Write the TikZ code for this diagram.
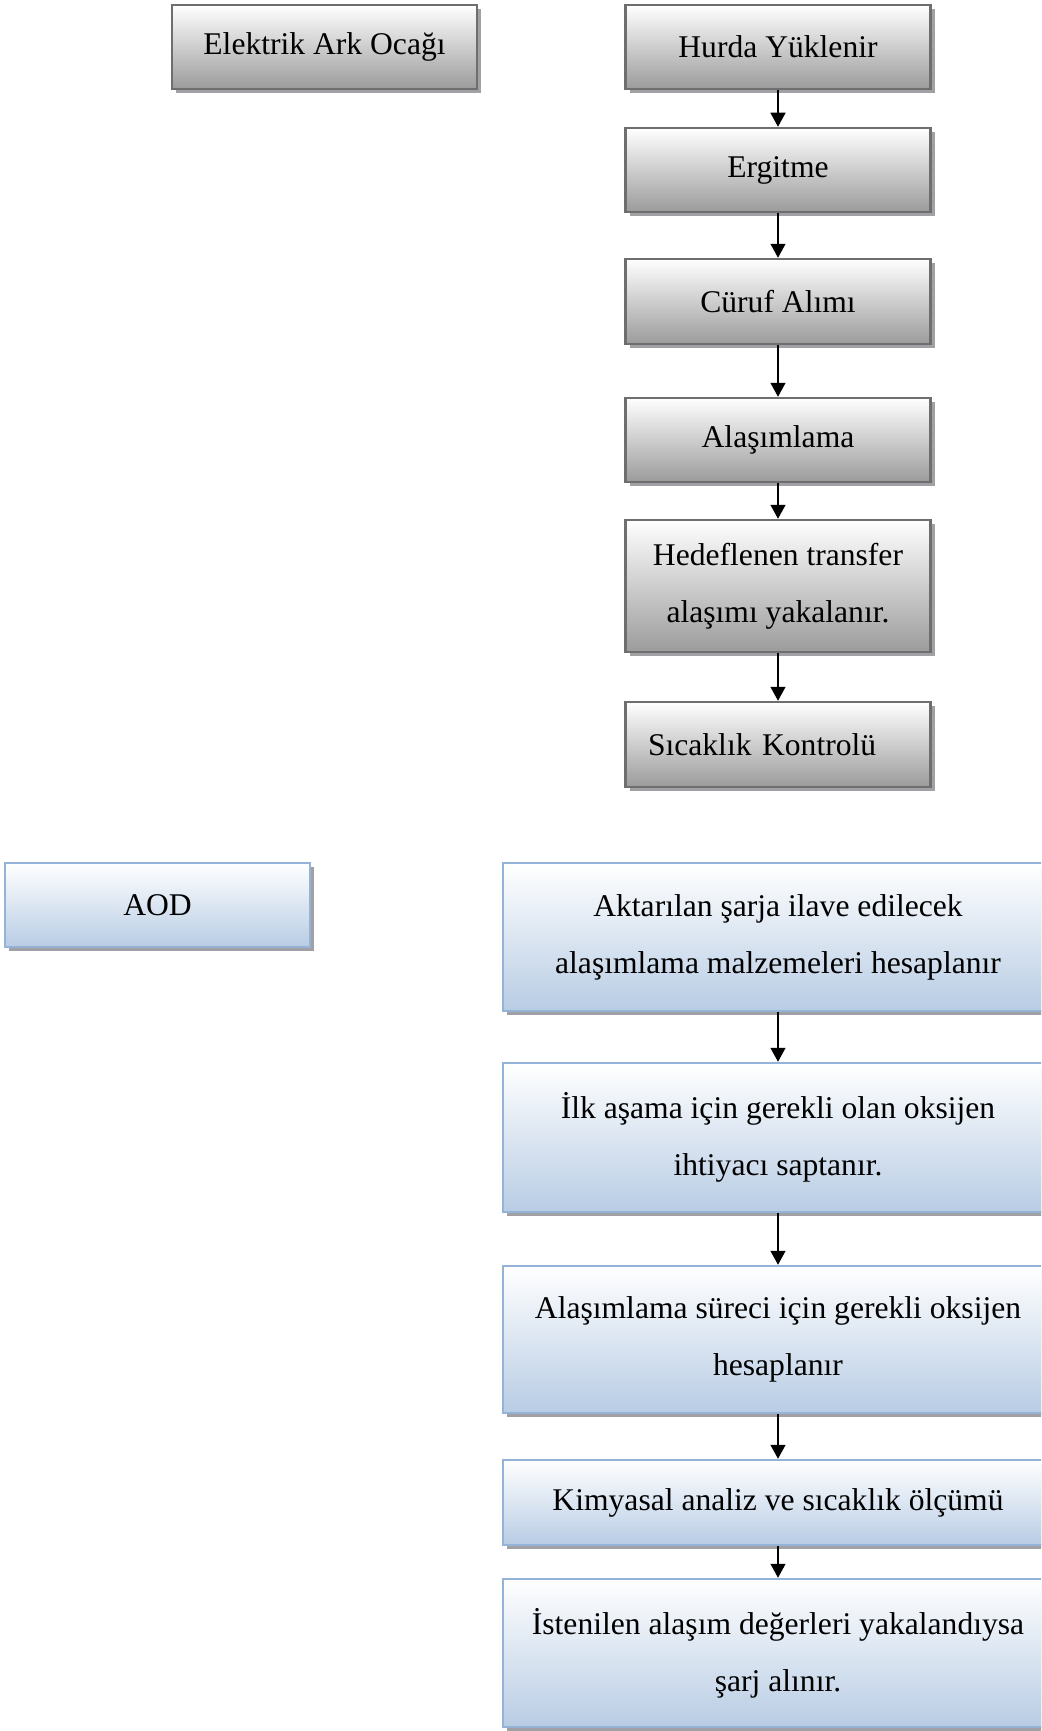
\documentclass[tikz,border=0pt]{standalone}
\usepackage{fontspec}
\setmainfont{Liberation Serif}
\usepackage{tikz}
\usetikzlibrary{arrows.meta,shadows}
\definecolor{kenargri}{RGB}{110,110,110}
\definecolor{altgri}{RGB}{155,155,155}
\definecolor{kenarmavi}{RGB}{149,179,215}
\definecolor{altmavi}{RGB}{184,204,228}
\definecolor{golge}{RGB}{160,160,165}

\tikzset{
	kutu/.style={rectangle, line width=2.5pt, align=center, inner sep=0pt,
		font=\fontsize{31.6}{57}\selectfont,
		drop shadow={shadow xshift=4pt, shadow yshift=-4pt, fill=golge, opacity=1}},
	grikutu/.style={kutu, draw=kenargri, top color=white, bottom color=altgri,
		minimum width=305pt},
	mavikutu/.style={kutu, draw=kenarmavi, top color=white, bottom color=altmavi},
	ok/.style={-{Triangle[width=15pt,length=14pt]}, line width=1.4pt}
}

\begin{document}
\begin{tikzpicture}[x=1pt,y=-1pt]
		\useasboundingbox (0,0) rectangle (1041,1731);
		\clip (0,0) rectangle (1041,1731);

		% ust bolum: elektrik ark ocagi
		\node[grikutu, minimum height=84pt] (eaf) at (324.5,47) {Elektrik Ark Ocağı};
		\node[grikutu, minimum height=84pt] (hurda) at (778,47) {Hurda Yüklenir};
		\node[grikutu, minimum height=84pt] (ergitme) at (778,170) {Ergitme};
		\node[grikutu, minimum height=85pt] (curuf) at (778,301.5) {Cüruf Alımı};
		\node[grikutu, minimum height=84pt] (alasim) at (778,440) {Alaşımlama};
		\node[grikutu, minimum height=132pt] (hedef) at (778,586) {Hedeflenen transfer\\alaşımı yakalanır.};
		\node[grikutu, minimum height=85pt, text width=260pt, inner xsep=22.5pt, align=left] (sicaklik) at (778,744.5) {Sıcaklık Kontrolü};

		\draw[ok] (hurda) -- (ergitme);
		\draw[ok] (ergitme) -- (curuf);
		\draw[ok] (curuf) -- (alasim);
		\draw[ok] (alasim) -- (hedef);
		\draw[ok] (hedef) -- (sicaklik);

		% alt bolum: AOD
		\node[mavikutu, minimum width=305pt, minimum height=84pt] (aod) at (157.5,905) {AOD};
		\node[mavikutu, minimum width=550pt, minimum height=148pt] (aktar) at (778,937) {Aktarılan şarja ilave edilecek\\alaşımlama malzemeleri hesaplanır};
		\node[mavikutu, minimum width=550pt, minimum height=149pt] (ilk) at (778,1137.5) {İlk aşama için gerekli olan oksijen\\ihtiyacı saptanır.};
		\node[mavikutu, minimum width=550pt, minimum height=147pt] (surec) at (778,1339.5) {Alaşımlama süreci için gerekli oksijen\\hesaplanır};
		\node[mavikutu, minimum width=550pt, minimum height=85pt] (kimya) at (778,1502.5) {Kimyasal analiz ve sıcaklık ölçümü};
		\node[mavikutu, minimum width=550pt, minimum height=148pt] (istenen) at (778,1653) {İstenilen alaşım değerleri yakalandıysa\\şarj alınır.};

		\draw[ok] (aktar) -- (ilk);
		\draw[ok] (ilk) -- (surec);
		\draw[ok] (surec) -- (kimya);
		\draw[ok] (kimya) -- (istenen);
	\end{tikzpicture}
\end{document}
